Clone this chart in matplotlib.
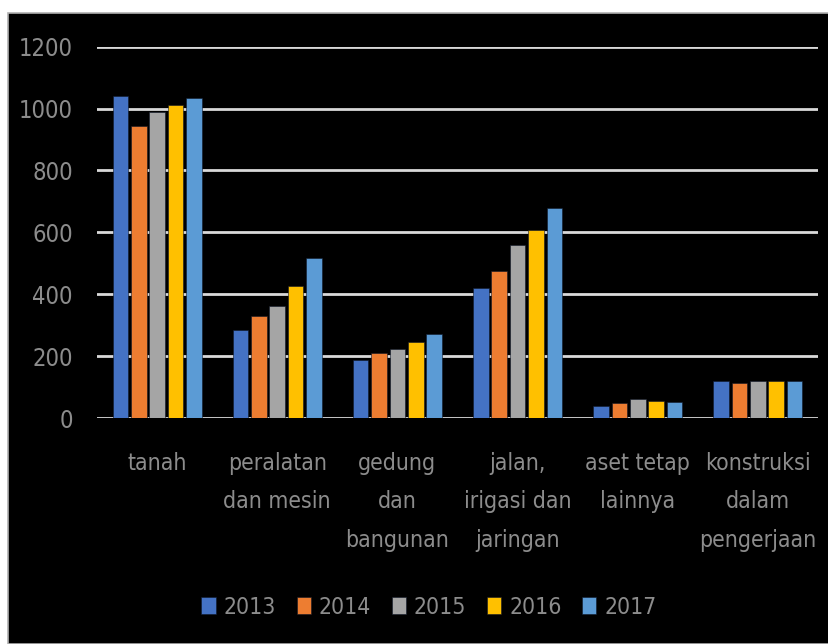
import matplotlib

matplotlib.use("Agg")

import matplotlib.pyplot as plt
import numpy as np
from matplotlib.patches import Rectangle

# Datos (valores aproximados)
KATEGORI = [
    "tanah",
    "peralatan\ndan mesin",
    "gedung\ndan\nbangunan",
    "jalan,\nirigasi dan\njaringan",
    "aset tetap\nlainnya",
    "konstruksi\ndalam\npengerjaan",
]
TAHUN = ["2013", "2014", "2015", "2016", "2017"]
NILAI_2013 = [1040, 284, 187, 421, 38, 120]
NILAI_2014 = [945, 330, 209, 475, 47, 112]
NILAI_2015 = [990, 363, 222, 560, 60, 120]
NILAI_2016 = [1013, 427, 246, 606, 56, 120]
NILAI_2017 = [1035, 517, 273, 680, 51, 120]
Y_TICKS = [0, 200, 400, 600, 800, 1000, 1200]

WARNA = ["#4472C4", "#ED7D31", "#A5A5A5", "#FFC000", "#5B9BD5"]
TEKS = "#8c8c8c"
GRID = "#d9d9d9"

plt.rcParams["font.family"] = ["DejaVu Sans"]
plt.rcParams["font.stretch"] = "condensed"


def main() -> int:
    fig = plt.figure(figsize=(8.29, 6.44), dpi=100, facecolor="white")

    # fondo negro con borde gris, como la captura
    fig.patches.append(
        Rectangle((8 / 829, 0), 1, 1 - 13 / 644, transform=fig.transFigure,
                  facecolor="black", edgecolor="#b0b0b0", linewidth=1.2, zorder=-5)
    )

    ax = fig.add_axes([97 / 829, 226 / 644, 721 / 829, 371.3 / 644])
    ax.set_zorder(2)
    ax.set_facecolor("black")

    series = [NILAI_2013, NILAI_2014, NILAI_2015, NILAI_2016, NILAI_2017]
    x = np.arange(len(KATEGORI))
    paso = 0.153
    ancho = 0.13
    for i, (tahun, valores, color) in enumerate(zip(TAHUN, series, WARNA)):
        ax.bar(x + (i - 2) * paso, valores, width=ancho, color=color,
               edgecolor="#101828", linewidth=0.4, label=tahun, zorder=3)

    ax.set_xlim(-0.5, len(KATEGORI) - 0.5)
    ax.set_ylim(0, 1200)
    ax.set_yticks(Y_TICKS)
    ax.set_yticklabels([str(v) for v in Y_TICKS])
    ax.set_xticks(x)
    ax.set_xticklabels(KATEGORI, linespacing=1.85)
    ax.yaxis.grid(True, color=GRID, linewidth=2.0, zorder=1)
    ax.set_axisbelow(True)

    ax.tick_params(axis="y", length=0, pad=17.3, labelsize=17, labelcolor=TEKS)
    ax.tick_params(axis="x", length=0, pad=24.5, labelsize=16.5, labelcolor=TEKS)
    for lado in ax.spines.values():
        lado.set_visible(False)

    fig.legend(
        loc="center", bbox_to_anchor=(429 / 829, 37 / 644), ncol=5, frameon=False,
        prop={"size": 16.5, "stretch": "condensed"}, labelcolor=TEKS,
        handlelength=0.62, handleheight=0.7, handletextpad=0.35, columnspacing=0.9,
    )

    fig.savefig("out.png", dpi=100, facecolor=fig.get_facecolor())
    plt.close(fig)
    return 0


if __name__ == "__main__":
    raise SystemExit(main())
